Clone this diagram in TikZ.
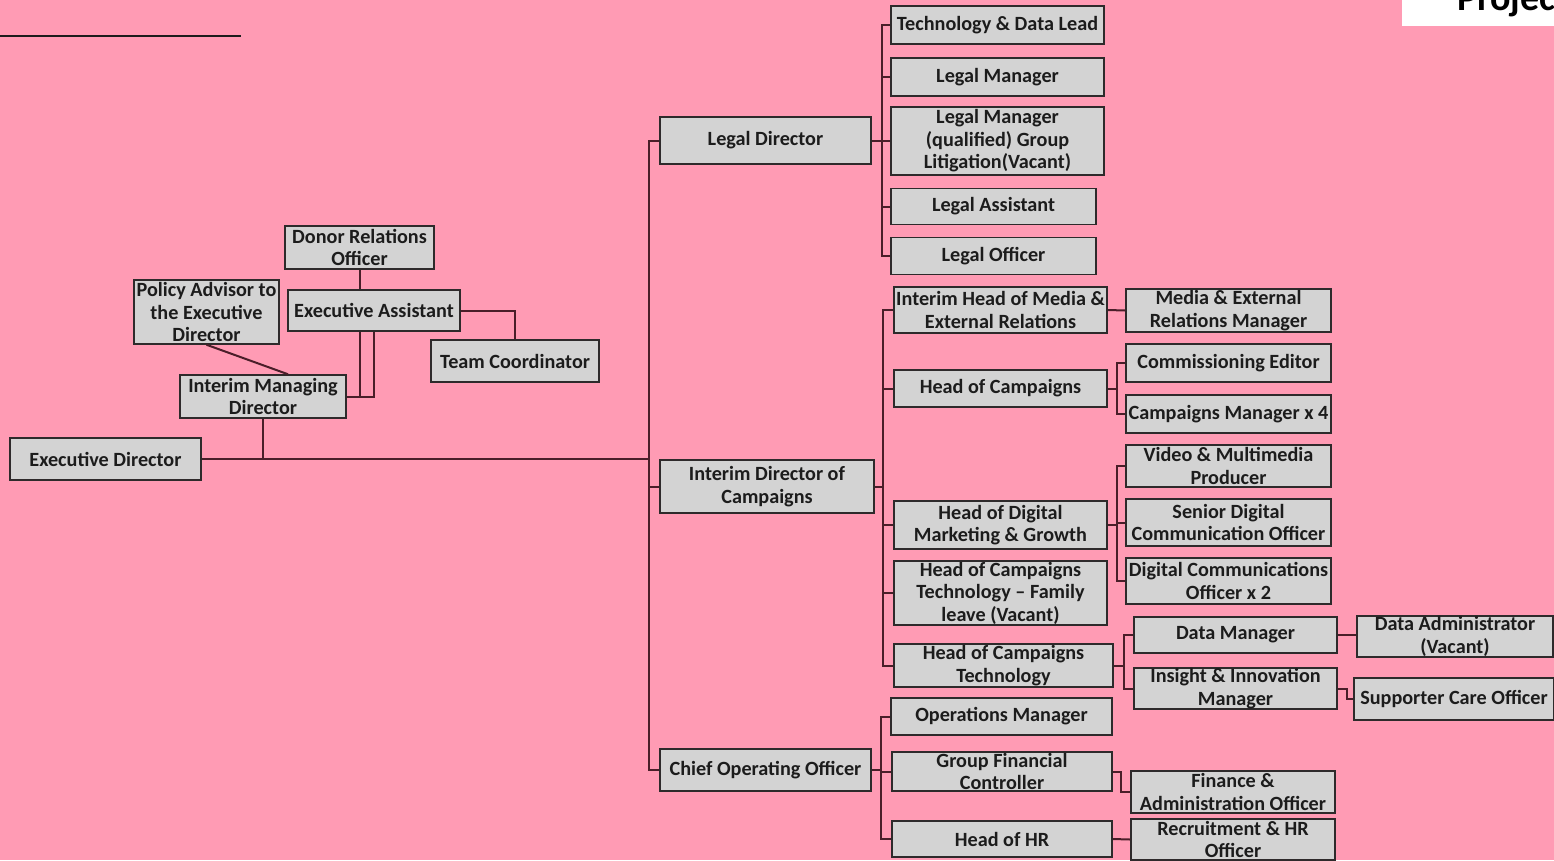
\documentclass[tikz,border=0pt]{standalone}
\usepackage{fontspec}
\setmainfont{Carlito}
\usetikzlibrary{calc}
\definecolor{ChartPink}{HTML}{FF9BB4}
\definecolor{ChartBox}{HTML}{D3D3D3}
\definecolor{ChartEdge}{HTML}{2E2A2B}
\definecolor{ChartLine}{HTML}{4A1E29}
\definecolor{ChartInk}{HTML}{1C1C1C}
\tikzset{
  post/.style={draw=ChartEdge,fill=ChartBox,line width=1.5pt,text=ChartInk,
    font=\fontsize{20.2}{22.5}\selectfont\bfseries,align=center,inner sep=0pt},
  link/.style={draw=ChartLine,line width=2pt},
}

\begin{document}
\begin{tikzpicture}[x=1pt,y=-1pt]
    \useasboundingbox (0,0) rectangle (1554,860);
    \clip (0,0) rectangle (1554,860);
    \fill[ChartPink] (0,0) rectangle (1554,860);
    \draw[ChartInk,line width=2pt] (0,36) -- (241,36);
    \fill[white] (1402,0) rectangle (1554,26);
    \node[anchor=base west,inner sep=0pt,text=black,font=\fontsize{38}{40}\selectfont\bfseries] (project) at (1457,10) {Project};

    % office of the executive director
    \node[post,minimum width=191,minimum height=42] (ed) at (105.5,459) {Executive Director};
    \node[post,minimum width=166,minimum height=43] (imd) at (263,396.5) {Interim Managing\\Director};
    \node[post,minimum width=145,minimum height=64] (policy) at (206.5,312) {Policy Advisor to\\the Executive\\Director};
    \node[post,minimum width=149,minimum height=43] (donor) at (359.5,247.5) {Donor Relations\\Officer};
    \node[post,minimum width=172,minimum height=41] (exa) at (374,310.5) {Executive Assistant};
    \node[post,minimum width=168,minimum height=42] (team) at (515,361) {Team Coordinator};

    % directors
    \node[post,minimum width=211,minimum height=47] (legal) at (765.5,140.5) {Legal Director};
    \node[post,minimum width=214,minimum height=53] (idc) at (767,486.5) {Interim Director of\\Campaigns};
    \node[post,minimum width=211,minimum height=42] (coo) at (765.5,770) {Chief Operating Officer};

    % legal team
    \node[post,minimum width=213,minimum height=38] (tech) at (997.5,25) {Technology \& Data Lead};
    \node[post,minimum width=213,minimum height=38] (lmgr) at (997.5,77) {Legal Manager};
    \node[post,minimum width=213,minimum height=68] (lmq) at (997.5,141) {Legal Manager\\(qualified) Group\\Litigation(Vacant)};
    \node[post,minimum width=205,minimum height=36] (lassist) at (993.5,206.5) {Legal Assistant};
    \node[post,minimum width=205,minimum height=37] (lofficer) at (993.5,256) {Legal Officer};

    % campaigns team
    \node[post,minimum width=213,minimum height=46] (ihm) at (1000.5,310) {Interim Head of Media \&\\External Relations};
    \node[post,minimum width=213,minimum height=37] (hoc) at (1000.5,388.5) {Head of Campaigns};
    \node[post,minimum width=213,minimum height=48] (hdm) at (1000.5,525) {Head of Digital\\Marketing \& Growth};
    \node[post,minimum width=213,minimum height=64] (hctf) at (1000.5,593) {Head of Campaigns\\Technology – Family\\leave (Vacant)};
    \node[post,minimum width=219,minimum height=43] (hct) at (1003.5,665.5) {Head of Campaigns\\Technology};
    \node[post,minimum width=205,minimum height=43] (merm) at (1228.5,310.5) {Media \& External\\Relations Manager};
    \node[post,minimum width=205,minimum height=38] (comm) at (1228.5,363) {Commissioning Editor};
    \node[post,minimum width=205,minimum height=38] (cmgr) at (1228.5,414) {Campaigns Manager x 4};
    \node[post,minimum width=205,minimum height=42] (video) at (1228.5,466) {Video \& Multimedia\\Producer};
    \node[post,minimum width=205,minimum height=47] (sdco) at (1228.5,522.5) {Senior Digital\\Communication Officer};
    \node[post,minimum width=205,minimum height=46] (dco) at (1228.5,581) {Digital Communications\\Officer x 2};
    \node[post,minimum width=203,minimum height=36] (dmgr) at (1235.5,635) {Data Manager};
    \node[post,minimum width=203,minimum height=41] (iim) at (1235.5,688.5) {Insight \& Innovation\\Manager};
    \node[post,minimum width=196,minimum height=41] (dadmin) at (1455,636.5) {Data Administrator\\(Vacant)};
    \node[post,minimum width=200,minimum height=42] (sco) at (1454,699) {Supporter Care Officer};

    % operations team
    \node[post,minimum width=221,minimum height=37] (ops) at (1001.5,716.5) {Operations Manager};
    \node[post,minimum width=220,minimum height=39] (gfc) at (1002,771.5) {Group Financial\\Controller};
    \node[post,minimum width=220,minimum height=36] (hr) at (1002,839) {Head of HR};
    \node[post,minimum width=204,minimum height=42] (fao) at (1233,792) {Finance \&\\Administration Officer};
    \node[post,minimum width=204,minimum height=41] (rhr) at (1233,839.5) {Recruitment \& HR\\Officer};

    % bus lines
    \coordinate (spine) at (649,0);
    \coordinate (lbus) at (882,0);
    \coordinate (cbus) at (883,0);
    \coordinate (hbus) at (1117,0);
    \coordinate (tbus) at (1124,0);
    \coordinate (obus) at (881,0);

    \draw[link] (ed.east) -- (ed.east -| spine);
    \draw[link] (imd.south) -- (imd.south |- ed.east);
    \draw[link] (policy.south) -- ($(imd.north)+(25,0)$);
    \draw[link] (donor.south) -- (donor.south |- exa.north);
    \draw[link] ($(exa.south)+(-14,0)$) |- (imd.east);
    \draw[link] (exa.south) |- (imd.east);
    \draw[link] (exa.east) -| (team.north);

    \draw[link] (legal.west) -- (legal.west -| spine) |- (coo.west);
    \draw[link] (idc.west) -- (idc.west -| spine);

    \draw[link] (legal.east) -- (legal.east -| lbus);
    \draw[link] (tech.west) -- (tech.west -| lbus) |- (lofficer.west);
    \foreach \n in {lmgr,lmq,lassist}
      \draw[link] (\n.west) -- (\n.west -| lbus);

    \draw[link] (idc.east) -- (idc.east -| cbus);
    \draw[link] (ihm.west) -- (ihm.west -| cbus) |- (hct.west);
    \foreach \n in {hoc,hdm,hctf}
      \draw[link] (\n.west) -- (\n.west -| cbus);
    \draw[link] (ihm.east) -- (merm.west);
    \draw[link] (hoc.east) -- (hoc.east -| hbus);
    \draw[link] (comm.west) -- (comm.west -| hbus) |- (cmgr.west);
    \draw[link] (hdm.east) -- (hdm.east -| hbus);
    \draw[link] (video.west) -- (video.west -| hbus) |- (dco.west);
    \draw[link] (sdco.west) -- (sdco.west -| hbus);
    \draw[link] (hct.east) -- (hct.east -| tbus);
    \draw[link] (dmgr.west) -- (dmgr.west -| tbus) |- (iim.west);
    \draw[link] (dmgr.east) -- (dmgr.east -| dadmin.west);
    \draw[link] (iim.east) -- ++(9,0) |- (sco.west);

    \draw[link] (coo.east) -- (coo.east -| obus);
    \draw[link] (ops.west) -- (ops.west -| obus) |- (hr.west);
    \draw[link] (gfc.west) -- (gfc.west -| obus);
    \draw[link] (gfc.east) -- ++(8,0) |- (fao.west);
    \draw[link] (hr.east) -- (rhr.west);
  \end{tikzpicture}
\end{document}
